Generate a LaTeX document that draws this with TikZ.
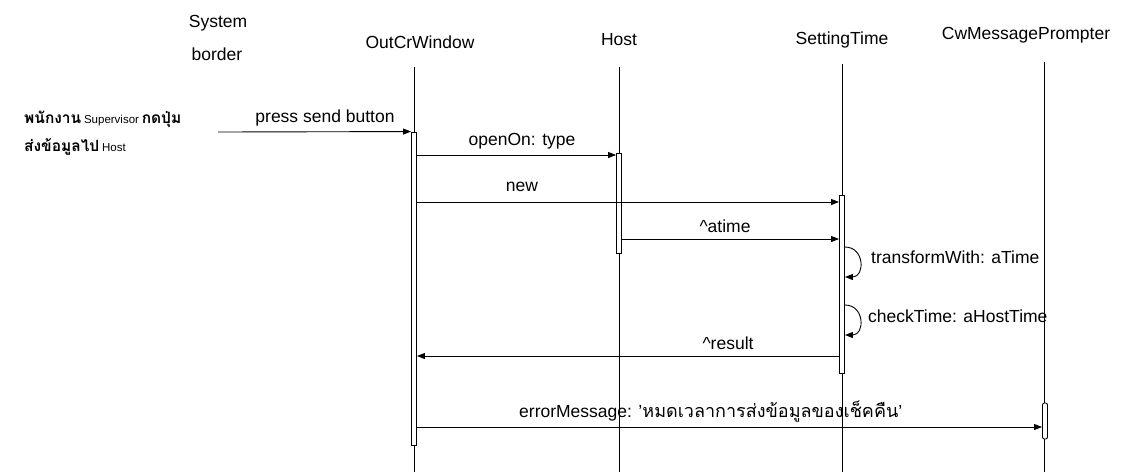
\documentclass[tikz,border=0pt]{standalone}
\usepackage{fontspec}
\setmainfont{Liberation Sans}
\newfontfamily\thaifont[Script=Thai]{Loma}
\usetikzlibrary{arrows.meta}
\begin{document}
\begin{tikzpicture}[x=1pt,y=-1pt,
  lbl/.style={font=\fontsize{17.5}{20}\selectfont, inner sep=0pt},
  life/.style={line width=0.9pt},
  actbar/.style={draw, fill=white, line width=0.9pt, minimum width=5pt, inner sep=0pt},
  msg/.style={line width=0.9pt, -{Triangle[length=8pt,width=6pt]}},
  thaib/.style={font=\thaifont\bfseries\fontsize{15.5}{18}\selectfont},
]
\useasboundingbox (0,0) rectangle (1127,475);

% object heads
\node[lbl] (sys)  at (218,23) {System};
\node[lbl] (bord) at (217,54) {border};
\node[lbl] (ocw)  at (420,42) {OutCrWindow};
\node[lbl] (host) at (619,40) {Host};
\node[lbl] (st)   at (842,40) {SettingTime};
\node[lbl] (cw)   at (1026,35) {CwMessagePrompter};

% actor text
\node[anchor=west, inner sep=0pt] (act1) at (24,119)
  {{\thaifont\bfseries\fontsize{15.5}{18}\selectfont พนักงาน} {\fontsize{11.5}{13}\selectfont Supervisor} {\thaifont\bfseries\fontsize{15.5}{18}\selectfont กดปุ่ม}};
\node[anchor=west, inner sep=0pt] (act2) at (24,147)
  {{\thaifont\bfseries\fontsize{15.5}{18}\selectfont ส่งข้อมูลไป} {\fontsize{11.5}{13}\selectfont Host}};

% message labels
\node[lbl] (lpress) at (325,118) {press send button};
\node[lbl] (lopen)  at (522,141) {openOn: type};
\node[lbl] (lnew)   at (522,187) {new};
\node[lbl] (latime) at (725,226) {\textasciicircum atime};
\node[lbl, anchor=west] (ltrans) at (871,257) {transformWith: aTime};
\node[lbl, anchor=west] (lcheck) at (868,316) {checkTime: aHostTime};
\node[lbl] (lres)   at (728,343) {\textasciicircum result};
\node[lbl, anchor=west] (lerr) at (519,412) {errorMessage: '{\thaifont\fontsize{18}{20}\selectfont หมดเวลาการส่งข้อมูลของเช็คคืน}'};

% lifelines
\coordinate (ocwTop) at (414,67);   \coordinate (ocwBot) at (414,472);
\coordinate (hostTop) at (619,67);  \coordinate (hostBot) at (619,472);
\coordinate (stTop) at (842,64);    \coordinate (stBot) at (842,472);
\coordinate (cwTop) at (1044,62);   \coordinate (cwBot) at (1044,472);
\draw[life] (ocwTop) -- (ocwBot);
\draw[life] (hostTop) -- (hostBot);
\draw[life] (stTop) -- (stBot);
\draw[life] (cwTop) -- (cwBot);

% activation bars
\node[actbar, minimum height=313pt] (ocwbar)  at (414,288.5) {};
\node[actbar, minimum height=100pt] (hostbar) at (619,203) {};
\node[actbar, minimum height=178pt] (stbar)   at (842,284) {};
\node[actbar, minimum height=36pt, rounded corners=2pt] (cwbar) at (1045,421) {};

% messages
\coordinate (actor) at (218,132);
\draw[msg] (actor) -- (ocwbar.north west);
\draw[msg] (ocwbar.east |- 0,155) -- (hostbar.west |- 0,155);
\draw[msg] (ocwbar.east |- 0,202) -- (stbar.west |- 0,202);
\draw[msg] (hostbar.east |- 0,239) -- (stbar.west |- 0,239);
\draw[msg] (stbar.east |- 0,247) .. controls +(20,0) and +(20,0) .. (stbar.east |- 0,277);
\draw[msg] (stbar.east |- 0,305) .. controls +(20,0) and +(20,0) .. (stbar.east |- 0,335);
\draw[msg] (stbar.west |- 0,356) -- (ocwbar.east |- 0,356);
\draw[msg] (ocwbar.east |- 0,427) -- (cwbar.west |- 0,427);
\end{tikzpicture}
\end{document}
